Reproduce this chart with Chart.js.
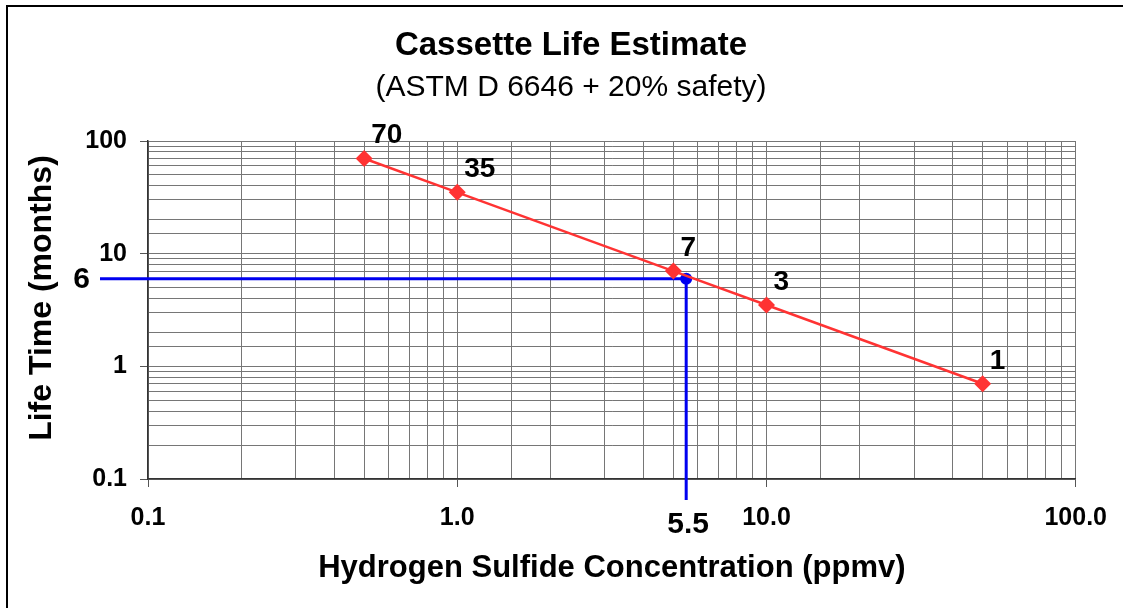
<!DOCTYPE html>
<html>
<head>
<meta charset="utf-8">
<script src="https://cdn.jsdelivr.net/npm/chart.js@4.4.1/dist/chart.umd.min.js"></script>
<style>
  html, body { margin: 0; padding: 0; background: #fff; }
  #wrap { width: 1123px; height: 608px; }
</style>
</head>
<body>
<div id="wrap"><canvas id="lifeChart" width="1123" height="608"></canvas></div>
<script>
// data
const concentration = [0.5, 1, 5, 10, 50];        // ppmv
const lifeMonths = [70, 35, 7, 3.5, 0.7];          // months
const pointLabels = ['70', '35', '7', '3', '1'];

const xTickValues = [0.1, 1, 10, 100];
const xTickLabels = ['0.1', '1.0', '10.0', '100.0'];
const yTickValues = [0.1, 1, 10, 100];
const yTickLabels = ['0.1', '1', '10', '100'];

// the highlighted reading
const markerX = 5.5;
const markerY = 6;
const markerXLabel = '5.5';
const markerYLabel = '6';

const FONT = "'Liberation Sans', Arial, sans-serif";

function matchTick(values, v) {
  return values.findIndex(t => Math.abs(v - t) / t < 1e-6);
}

// white background, frame lines, titles
const decorPlugin = {
  id: 'decor',
  beforeDraw(chart) {
    const ctx = chart.ctx;
    ctx.save();
    ctx.fillStyle = '#fff';
    ctx.fillRect(0, 0, chart.width, chart.height);
    ctx.strokeStyle = '#000';
    ctx.lineWidth = 2;
    ctx.beginPath();
    ctx.moveTo(7, chart.height);
    ctx.lineTo(7, 6);
    ctx.lineTo(chart.width, 6);
    ctx.stroke();
    ctx.restore();
  },
  afterDraw(chart) {
    const ctx = chart.ctx;
    const cx = 571;
    ctx.save();
    ctx.fillStyle = '#000';
    ctx.textAlign = 'center';
    ctx.textBaseline = 'middle';
    ctx.font = 'bold 33px ' + FONT;
    ctx.fillText('Cassette Life Estimate', cx, 46);
    ctx.font = '30px ' + FONT;
    ctx.fillText('(ASTM D 6646 + 20% safety)', cx, 88);
    // y axis title
    ctx.translate(42, 298);
    ctx.rotate(-Math.PI / 2);
    ctx.font = 'bold 32px ' + FONT;
    ctx.fillText('Life Time (months)', 0, 0);
    ctx.restore();
  }
};

// blue guide lines to the axes, plus point value labels
const guidePlugin = {
  id: 'guides',
  beforeDatasetsDraw(chart) {
    const {ctx, chartArea, scales} = chart;
    const px = scales.x.getPixelForValue(markerX);
    const py = scales.y.getPixelForValue(markerY);
    ctx.save();
    ctx.strokeStyle = '#0000f0';
    ctx.lineWidth = 3;
    ctx.beginPath();
    ctx.moveTo(chartArea.left - 48, py);
    ctx.lineTo(px, py);
    ctx.lineTo(px, chartArea.bottom + 21);
    ctx.stroke();
    ctx.fillStyle = '#000';
    ctx.font = 'bold 30px ' + FONT;
    ctx.textAlign = 'right';
    ctx.textBaseline = 'middle';
    ctx.fillText(markerYLabel, chartArea.left - 58, py + 1);
    ctx.textAlign = 'center';
    ctx.textBaseline = 'top';
    ctx.fillText(markerXLabel, px + 2, chartArea.bottom + 31);
    ctx.restore();
  },
  afterDatasetsDraw(chart) {
    const {ctx, scales} = chart;
    ctx.save();
    ctx.fillStyle = '#000';
    ctx.font = 'bold 28px ' + FONT;
    ctx.textAlign = 'left';
    ctx.textBaseline = 'bottom';
    concentration.forEach((c, i) => {
      const x = scales.x.getPixelForValue(c);
      const y = scales.y.getPixelForValue(lifeMonths[i]);
      ctx.fillText(pointLabels[i], x + 7, y - 9);
    });
    ctx.restore();
  }
};

const ctxLife = document.getElementById('lifeChart').getContext('2d');
new Chart(ctxLife, {
  type: 'scatter',
  data: {
    datasets: [{
      label: 'Life time',
      data: concentration.map((c, i) => ({x: c, y: lifeMonths[i]})),
      showLine: true,
      borderColor: '#ff3333',
      backgroundColor: '#ff3333',
      borderWidth: 2.5,
      pointStyle: 'rectRot',
      pointRadius: 8.5,
      pointBorderWidth: 0,
      clip: false
    }, {
      label: 'Reading',
      data: [{x: markerX, y: markerY}],
      borderColor: '#0000f0',
      backgroundColor: '#0000f0',
      pointRadius: 6,
      pointBorderWidth: 0
    }]
  },
  options: {
    responsive: false,
    animation: false,
    layout: { padding: { top: 141, right: 46, bottom: 0, left: 0 } },
    scales: {
      x: {
        type: 'logarithmic',
        position: 'bottom',
        min: 0.1,
        max: 100,
        afterFit: (scale) => { scale.height = 129; },
        border: { color: '#333', width: 1.5 },
        grid: {
          color: '#767676',
          lineWidth: 1,
          tickLength: 8,
          tickColor: (c) => (c.tick && matchTick(xTickValues, c.tick.value) >= 0) ? '#555' : 'rgba(0,0,0,0)'
        },
        ticks: {
          autoSkip: false,
          maxRotation: 0,
          padding: 16,
          color: '#000',
          font: { family: FONT, size: 25, weight: 'bold' },
          callback: (v) => {
            const i = matchTick(xTickValues, v);
            return i >= 0 ? xTickLabels[i] : '';
          }
        },
        title: {
          display: true,
          text: 'Hydrogen Sulfide Concentration (ppmv)',
          color: '#000',
          font: { family: FONT, size: 31, weight: 'bold' },
          padding: { top: 21, bottom: 21 }
        }
      },
      y: {
        type: 'logarithmic',
        position: 'left',
        min: 0.1,
        max: 100,
        afterFit: (scale) => { scale.width = 148; },
        border: { color: '#333', width: 1.5 },
        grid: {
          color: '#767676',
          lineWidth: 1,
          tickLength: 8,
          tickColor: (c) => (c.tick && matchTick(yTickValues, c.tick.value) >= 0) ? '#555' : 'rgba(0,0,0,0)'
        },
        ticks: {
          autoSkip: false,
          padding: 13,
          color: '#000',
          font: { family: FONT, size: 25, weight: 'bold' },
          callback: (v) => {
            const i = matchTick(yTickValues, v);
            return i >= 0 ? yTickLabels[i] : '';
          }
        }
      }
    },
    plugins: {
      legend: { display: false },
      tooltip: { enabled: false }
    }
  },
  plugins: [decorPlugin, guidePlugin]
});
</script>
</body>
</html>
